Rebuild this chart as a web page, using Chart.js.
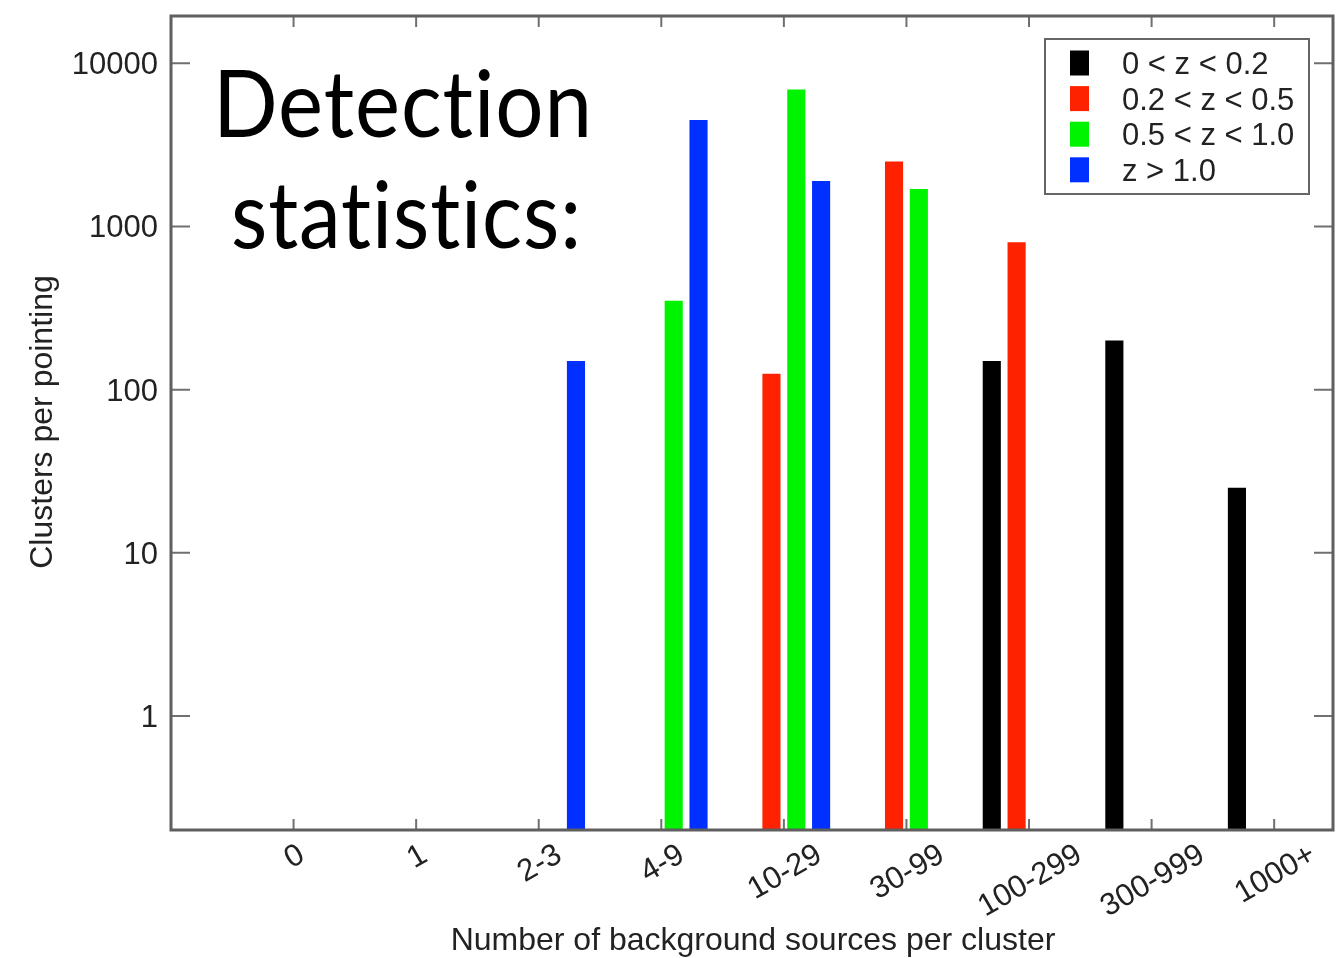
<!DOCTYPE html>
<html lang="en">
<head>
<meta charset="UTF-8">
<title>Detection statistics</title>
<script src="https://cdn.jsdelivr.net/npm/chart.js"></script>
<style>
  html, body { margin: 0; padding: 0; background: #fff; }
  canvas { display: block; }
</style>
</head>
<body>
<canvas id="detChart" width="1343" height="958"></canvas>
<script>
// bins of background sources per cluster
const categories = ['0', '1', '2-3', '4-9', '10-29', '30-99', '100-299', '300-999', '1000+'];
const seriesLabels = ['0 < z < 0.2', '0.2 < z < 0.5', '0.5 < z < 1.0', 'z > 1.0'];
const seriesColors = ['#000000', '#ff2200', '#00f400', '#0030ff'];

// clusters per pointing, one value per bin (null = no bar)
const zBin1 = [null, null, null, null, null, null, 150, 200, 25];
const zBin2 = [null, null, null, null, 125, 2500, 800, null, null];
const zBin3 = [null, null, null, 350, 6900, 1700, null, null, null];
const zBin4 = [null, null, 150, 4500, 1900, null, null, null, null];

const yTicks = [1, 10, 100, 1000, 10000];

const INK = '#222';
const FRAME = '#5f5f5f';

function toPoints(arr) {
  return arr.map((v, i) => ({ x: i, y: v }));
}

// draws a string squeezed/stretched to a given width
function fitText(ctx, str, x, y, width) {
  const w = ctx.measureText(str).width;
  ctx.save();
  ctx.translate(x, y);
  ctx.scale(width / w, 1);
  ctx.fillText(str, 0, 0);
  ctx.restore();
}

const framePlugin = {
  id: 'frame',
  afterDraw(chart) {
    const ctx = chart.ctx;
    const a = chart.chartArea;
    const xs = chart.scales.x;
    const ys = chart.scales.y;

    ctx.save();
    // inward tick marks on all four sides
    ctx.strokeStyle = '#707070';
    ctx.lineWidth = 2;
    ctx.beginPath();
    categories.forEach((c, i) => {
      const px = xs.getPixelForValue(i);
      ctx.moveTo(px, a.bottom); ctx.lineTo(px, a.bottom - 11);
      ctx.moveTo(px, a.top); ctx.lineTo(px, a.top + 11);
    });
    yTicks.forEach(v => {
      const py = ys.getPixelForValue(v);
      ctx.moveTo(a.left, py); ctx.lineTo(a.left + 19, py);
      ctx.moveTo(a.right, py); ctx.lineTo(a.right - 19, py);
    });
    ctx.stroke();

    // plot frame
    ctx.strokeStyle = FRAME;
    ctx.lineWidth = 3;
    ctx.strokeRect(a.left, a.top, a.right - a.left, a.bottom - a.top);

    // y tick labels
    ctx.fillStyle = INK;
    ctx.font = '31px "Liberation Sans", Arial, sans-serif';
    ctx.textAlign = 'right';
    ctx.textBaseline = 'alphabetic';
    yTicks.forEach(v => {
      ctx.fillText(String(v), 158, ys.getPixelForValue(v) + 11);
    });

    // x tick labels, rotated 30deg and centred on the tick
    ctx.textAlign = 'center';
    categories.forEach((c, i) => {
      const px = xs.getPixelForValue(i);
      const w = ctx.measureText(c).width;
      const cy = 841 + w / 2 * 0.5 + 11 * 0.866;
      ctx.save();
      ctx.translate(px, cy);
      ctx.rotate(-Math.PI / 6);
      ctx.fillText(c, 0, 11);
      ctx.restore();
    });

    // axis titles
    ctx.font = '32px "Liberation Sans", Arial, sans-serif';
    ctx.fillText('Number of background sources per cluster', 753, 950);
    ctx.save();
    ctx.translate(52, 422);
    ctx.rotate(-Math.PI / 2);
    ctx.fillText('Clusters per pointing', 0, 0);
    ctx.restore();

    // legend box
    ctx.strokeStyle = '#666';
    ctx.lineWidth = 2;
    ctx.strokeRect(1045, 39, 264, 155);
    ctx.font = '31px "Liberation Sans", Arial, sans-serif';
    ctx.textAlign = 'left';
    chart.data.datasets.forEach((ds, k) => {
      const cy = 63 + 35.6 * k;
      ctx.fillStyle = ds.backgroundColor;
      ctx.fillRect(1070, cy - 12.5, 19, 25);
      ctx.fillStyle = INK;
      ctx.fillText(ds.label, 1122, cy + 11);
    });

    // heading (letter spacing keeps Lato from joining "ti")
    ctx.fillStyle = '#000';
    ctx.font = '93px Lato, "Open Sans", sans-serif';
    ctx.letterSpacing = '1px';
    ctx.textAlign = 'left';
    fitText(ctx, 'Detection', 213, 137, 380);
    fitText(ctx, 'statistics:', 231, 248, 351);
    ctx.letterSpacing = '0px';
    ctx.restore();
  }
};

const ctx = document.getElementById('detChart').getContext('2d');
new Chart(ctx, {
  type: 'bar',
  data: {
    datasets: [zBin1, zBin2, zBin3, zBin4].map((arr, k) => ({
      label: seriesLabels[k],
      data: toPoints(arr),
      backgroundColor: seriesColors[k],
      borderWidth: 0,
      categoryPercentage: 0.81,
      barPercentage: 0.73
    }))
  },
  options: {
    responsive: false,
    animation: false,
    layout: { padding: { left: 171, top: 16, right: 10, bottom: 128 } },
    plugins: {
      legend: { display: false },
      tooltip: { enabled: false }
    },
    scales: {
      x: {
        type: 'linear', display: false, offset: false, min: -1, max: 8.48,
        // one tick per bin so bar groups are sized to the bin spacing
        afterBuildTicks: s => { s.ticks = categories.map((c, i) => ({ value: i })); }
      },
      y: { type: 'logarithmic', display: false, min: 0.2, max: 19500 }
    }
  },
  plugins: [framePlugin]
});
</script>
</body>
</html>
